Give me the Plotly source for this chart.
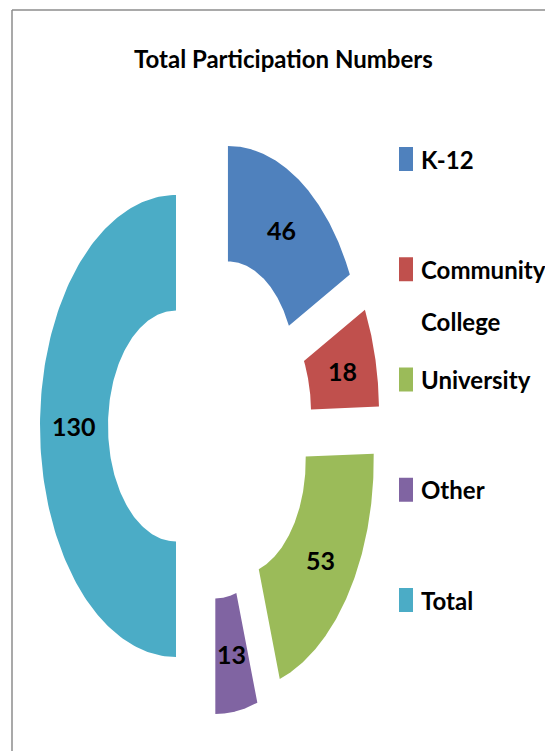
import numpy as np
import plotly.graph_objects as go

# data
categories = ["K-12", "Community College", "University", "Other", "Total"]
values = [46, 18, 53, 13, 130]
legend_labels = ["K-12", "Community<br>College", "University", "Other", "Total"]
colors = ["#4F81BD", "#C0504D", "#9BBB59", "#8064A2", "#4BACC6"]
title = "Total Participation Numbers"

# layout constants (pixels)
W, H = 545, 751
CX, CY = 210, 426      # doughnut centre
RX, RY = 136, 231      # outer radii (chart is stretched vertically)
HOLE = 0.5
EXPLODE = 0.25
FONT = "Lato, sans-serif"

fig = go.Figure()

total = sum(values)
start = 0.0
for cat, val, col in zip(categories, values, colors):
    a0 = start / total * 2 * np.pi
    a1 = (start + val) / total * 2 * np.pi
    mid = (a0 + a1) / 2
    ox = CX + EXPLODE * RX * np.sin(mid)
    oy = CY - EXPLODE * RY * np.cos(mid)
    t = np.linspace(a0, a1, 150)
    xs = np.concatenate([ox + RX * np.sin(t), ox + HOLE * RX * np.sin(t[::-1])])
    ys = np.concatenate([oy - RY * np.cos(t), oy - HOLE * RY * np.cos(t[::-1])])
    fig.add_trace(go.Scatter(
        x=np.append(xs, xs[0]), y=np.append(ys, ys[0]),
        mode="lines", fill="toself", fillcolor=col, line=dict(width=0),
        name=cat, hoverinfo="text", text=f"{cat}: {val}", showlegend=False
    ))
    # data label in the middle of the ring segment
    lr = (1 + HOLE) / 2
    fig.add_annotation(
        x=ox + lr * RX * np.sin(mid), y=oy - lr * RY * np.cos(mid),
        text=str(val), showarrow=False,
        font=dict(family=FONT, size=25, color="black", weight="bold")
    )
    start += val

# legend drawn by hand so the spacing matches
LEG_X, LEG_Y0, LEG_STEP, LINE_STEP = 399, 159, 110.25, 52
for i, (lab, col) in enumerate(zip(legend_labels, colors)):
    yc = LEG_Y0 + i * LEG_STEP
    fig.add_shape(type="rect", x0=LEG_X, x1=LEG_X + 14, y0=yc - 12, y1=yc + 12,
                  fillcolor=col, line=dict(width=0))
    for j, line in enumerate(lab.split("<br>")):
        fig.add_annotation(
            x=LEG_X + 20, y=yc + j * LINE_STEP, text=line, showarrow=False,
            xanchor="left", yanchor="middle",
            font=dict(family=FONT, size=24, color="black", weight="bold")
        )

# title
fig.add_annotation(x=283, y=58, text=title, showarrow=False,
                   font=dict(family=FONT, size=24, color="black", weight="bold"))

# chart area border (left and top edges visible)
fig.add_shape(type="line", x0=12, x1=12, y0=10, y1=H, line=dict(color="#8c8c8c", width=1.5))
fig.add_shape(type="line", x0=12, x1=W, y0=10, y1=10, line=dict(color="#8c8c8c", width=1.5))

fig.update_layout(
    width=W, height=H,
    margin=dict(l=0, r=0, t=0, b=0),
    paper_bgcolor="white", plot_bgcolor="white",
    xaxis=dict(range=[0, W], visible=False, fixedrange=True),
    yaxis=dict(range=[H, 0], visible=False, fixedrange=True),
    showlegend=False
)

fig.write_html("out.html", config={"displayModeBar": False},
               post_script="document.body.style.margin='0';")
